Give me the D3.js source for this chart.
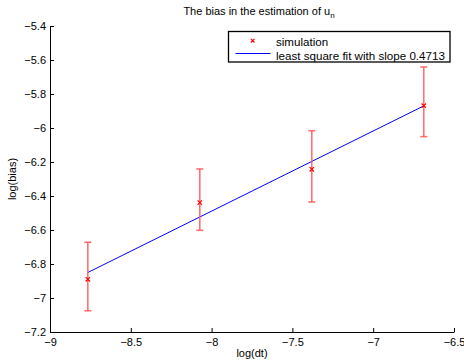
<!DOCTYPE html>
<html>
<head>
<meta charset="utf-8">
<script src="https://cdn.jsdelivr.net/npm/d3@7"></script>
<style>
  body { margin: 0; background: #fff; }
  text { font-family: "Liberation Sans", Arial, sans-serif; }
</style>
</head>
<body>
<div id="chart"></div>
<script>
(function () {
    // data
    var logDt = [-8.766, -8.073, -7.380, -6.687];
    var logBias = [-6.890, -6.439, -6.243, -5.869];
    var errLow = [-7.075, -6.602, -6.435, -6.051];
    var errHigh = [-6.672, -6.241, -6.016, -5.641];
    var fitX = [-8.766, -6.687];
    var fitY = [-6.850, -5.870];
    var xTicks = [-9, -8.5, -8, -7.5, -7, -6.5];
    var yTicks = [-5.4, -5.6, -5.8, -6, -6.2, -6.4, -6.6, -6.8, -7, -7.2];

    var width = 464, height = 363;
    var left = 50, right = 454, top = 26, bottom = 332;

    var svg = d3.select("#chart").append("svg")
        .attr("width", width)
        .attr("height", height);

    var x = d3.scaleLinear().domain([-9, -6.5]).range([left, right]);
    var y = d3.scaleLinear().domain([-7.2, -5.4]).range([bottom, top]);

    var fmt = function (d) { return String(d).replace("-", "\u2212"); };

    // axes, ticks pointing inward like matlab
    var xAxis = svg.append("g")
        .attr("transform", "translate(0," + bottom + ")")
        .call(d3.axisBottom(x).tickValues(xTicks).tickSizeInner(-4).tickSizeOuter(0).tickPadding(6).tickFormat(fmt));
    var yAxis = svg.append("g")
        .attr("transform", "translate(" + left + ",0)")
        .call(d3.axisLeft(y).tickValues(yTicks).tickSizeInner(-4).tickSizeOuter(0).tickPadding(4).tickFormat(fmt));

    [xAxis, yAxis].forEach(function (g) {
        g.selectAll("path.domain").attr("stroke", "#000").attr("stroke-width", 1);
        g.selectAll(".tick line").attr("stroke", "#000");
        g.selectAll(".tick text").attr("fill", "#000").style("font-size", "11px")
            .style("font-family", "'Liberation Sans', Arial, sans-serif");
    });
    xAxis.selectAll(".tick text").attr("y", 6);

    // fit line
    svg.append("path")
        .datum(d3.zip(fitX, fitY))
        .attr("d", d3.line().x(function (d) { return x(d[0]); }).y(function (d) { return y(d[1]); }))
        .attr("stroke", "#0000ff")
        .attr("stroke-width", 1)
        .attr("fill", "none");

    // error bars
    var pts = logDt.map(function (d, i) {
        return { x: d, y: logBias[i], lo: errLow[i], hi: errHigh[i] };
    });
    var eb = svg.append("g").attr("stroke", "#ff4d4d").attr("stroke-opacity", 0.8).attr("stroke-width", 1.6);
    eb.selectAll("line.v").data(pts).enter().append("line")
        .attr("x1", function (d) { return x(d.x); })
        .attr("x2", function (d) { return x(d.x); })
        .attr("y1", function (d) { return y(d.lo); })
        .attr("y2", function (d) { return y(d.hi); });
    ["lo", "hi"].forEach(function (k) {
        eb.selectAll("line." + k).data(pts).enter().append("line")
            .attr("x1", function (d) { return x(d.x) - 3.5; })
            .attr("x2", function (d) { return x(d.x) + 3.5; })
            .attr("y1", function (d) { return y(d[k]); })
            .attr("y2", function (d) { return y(d[k]); });
    });

    // x markers
    var cross = function (g, cx, cy, s) {
        g.append("path")
            .attr("d", "M" + (cx - s) + "," + (cy - s) + "L" + (cx + s) + "," + (cy + s) +
                "M" + (cx - s) + "," + (cy + s) + "L" + (cx + s) + "," + (cy - s))
            .attr("stroke", "#ff0000")
            .attr("stroke-width", 1.2);
    };
    pts.forEach(function (d) { cross(svg, x(d.x), y(d.y), 2.2); });

    // title
    var title = svg.append("text")
        .attr("x", 259)
        .attr("y", 15)
        .attr("text-anchor", "middle")
        .style("font-size", "11px");
    title.append("tspan").text("The bias in the estimation of u");
    title.append("tspan").attr("dy", 3).style("font-size", "8px").text("n");

    // axis labels
    svg.append("text")
        .attr("x", 252)
        .attr("y", 357)
        .attr("text-anchor", "middle")
        .style("font-size", "11px")
        .text("log(dt)");
    svg.append("text")
        .attr("transform", "translate(16,179) rotate(-90)")
        .attr("text-anchor", "middle")
        .style("font-size", "11px")
        .text("log(bias)");

    // legend
    var lg = svg.append("g");
    lg.append("rect")
        .attr("x", 228.5).attr("y", 31.5)
        .attr("width", 221.5).attr("height", 30.5)
        .attr("fill", "#fff")
        .attr("stroke", "#000")
        .attr("stroke-width", 1.3);
    cross(lg, 252.7, 40.7, 1.8);
    lg.append("line")
        .attr("x1", 235.5).attr("x2", 270.5)
        .attr("y1", 53.5).attr("y2", 53.5)
        .attr("stroke", "#0000ff")
        .attr("stroke-width", 1);
    lg.append("text").attr("x", 276).attr("y", 45.5).style("font-size", "11.6px").text("simulation");
    lg.append("text").attr("x", 276).attr("y", 59.5).style("font-size", "11.6px").text("least square fit with slope 0.4713");
})();
</script>
</body>
</html>
